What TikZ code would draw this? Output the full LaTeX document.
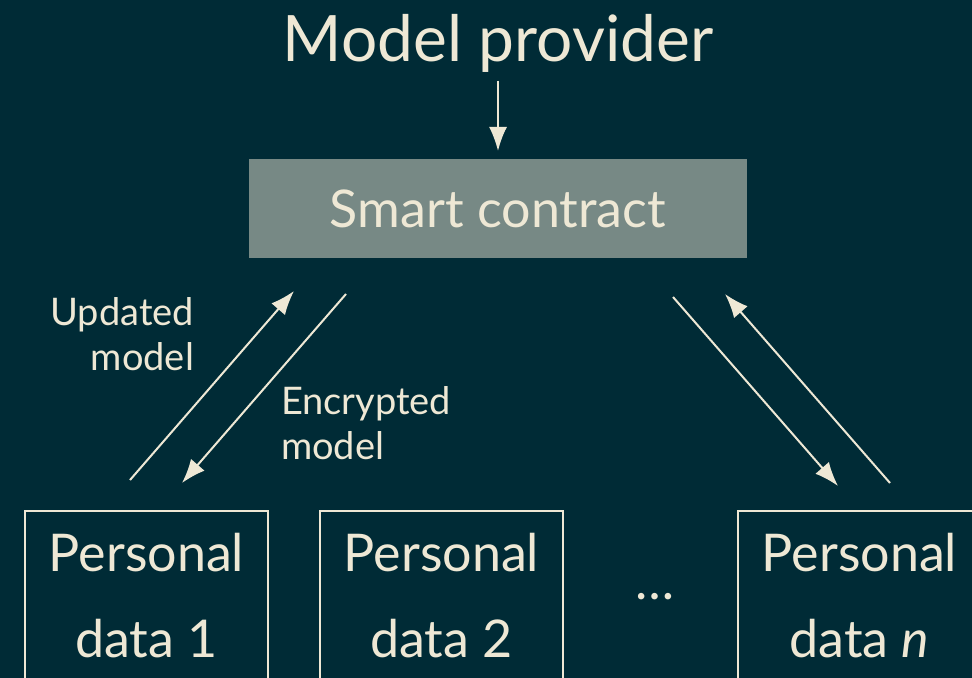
\documentclass[tikz,border=0pt]{standalone}
\usepackage{fontspec}
\setmainfont{Lato}
\usetikzlibrary{arrows.meta}
\definecolor{basebg}{HTML}{002B36}
\definecolor{basefg}{HTML}{EEE8D5}

\begin{document}
\begin{tikzpicture}[x=0.5pt,y=-0.5pt,>={Latex[length=12pt,width=9pt]},line width=1pt,basefg,
  contract/.style={fill=basefg!50!basebg,minimum width=249pt,minimum height=49.5pt,
    font=\fontsize{26}{30}\selectfont},
  datastore/.style={draw=basefg,minimum width=121.5pt,minimum height=85pt,align=center,
    font=\fontsize{26}{43}\selectfont},
  msglabel/.style={inner sep=0pt,font=\fontsize{19}{22.5}\selectfont}]

% background and page size
  \fill[basebg] (0,0) rectangle (972,678);
  \useasboundingbox (0,0) rectangle (972,678);
  \clip (0,0) rectangle (972,678);

% define the parties
  \node[anchor=base,font=\fontsize{32}{38}\selectfont] (provider) at (498,62) {Model provider};
  \node[contract] (contract) at (498,208.5) {Smart contract};

  \node[datastore] (data1) at (146.5,596) {Personal\\data 1};
  \node[datastore] (data2) at (441.5,596) {Personal\\data 2};
  \node[font=\fontsize{26}{30}\selectfont] (dots) at (655,597) {\dots};
  \node[datastore] (datan) at (859.5,596) {Personal\\data \textit{n}};

% labels of the exchange
  \node[msglabel,anchor=north east,align=right] (updated) at (195,297) {Updated\\model};
  \node[msglabel,anchor=north west,align=left] (encrypted) at (280,386) {Encrypted\\model};

% free ends of the diagonal links
  \coordinate (upl0) at (130,480);   \coordinate (upl1) at (294,291);
  \coordinate (dnl0) at (346,294);   \coordinate (dnl1) at (182,483);
  \coordinate (dnr0) at (673,297);   \coordinate (dnr1) at (838,486);
  \coordinate (upr0) at (890,483);   \coordinate (upr1) at (725,294);

% define the links
  \path[->] (provider.south) edge [shorten >=3.5pt] (contract.north)
        (upl0) edge (upl1)
        (dnl0) edge (dnl1)
        (dnr0) edge (dnr1)
        (upr0) edge (upr1);

\end{tikzpicture}
\end{document}
